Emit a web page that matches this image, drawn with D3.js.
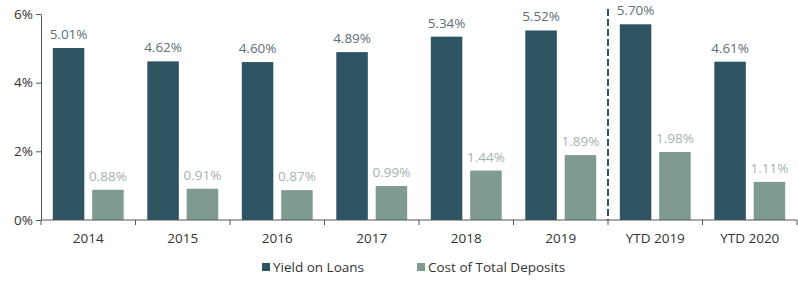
<!DOCTYPE html>
<html>
<head>
<meta charset="utf-8">
<script src="https://cdn.jsdelivr.net/npm/d3@7"></script>
<style>
  body { margin: 0; background: #fff; }
  svg { font-family: "Open Sans", "Liberation Sans", sans-serif; }
</style>
</head>
<body>
<div id="chart"></div>
<script>
const categories = ["2014", "2015", "2016", "2017", "2018", "2019", "YTD 2019", "YTD 2020"];
const yieldOnLoans = [5.01, 4.62, 4.60, 4.89, 5.34, 5.52, 5.70, 4.61];
const costOfDeposits = [0.88, 0.91, 0.87, 0.99, 1.44, 1.89, 1.98, 1.11];
const yTicks = [0, 2, 4, 6];
const seriesNames = ["Yield on Loans", "Cost of Total Deposits"];

const width = 798, height = 282;
const margin = {top: 14, right: 1, bottom: 62, left: 41};
const colors = ["#2e5361", "#7f9b8f"];
const labelColors = ["#5d6f77", "#a3b3ad"];
const fontSize = 13.5;

const svg = d3.select("#chart").append("svg")
    .attr("width", width)
    .attr("height", height);

const x0 = d3.scaleBand()
    .domain(categories)
    .range([margin.left, width - margin.right])
    .paddingInner(0.25)
    .paddingOuter(0.125);

const x1 = d3.scaleBand()
    .domain([0, 1])
    .range([0, x0.bandwidth()])
    .paddingInner(0.2);

const y = d3.scaleLinear()
    .domain([0, 6])
    .range([height - margin.bottom, margin.top]);

const rows = categories.map((c, i) => ({cat: c, vals: [yieldOnLoans[i], costOfDeposits[i]]}));

// bars
const group = svg.append("g")
    .selectAll("g")
    .data(rows)
    .join("g")
    .attr("transform", d => `translate(${x0(d.cat)},0)`);

group.selectAll("rect")
    .data(d => d.vals.map((v, k) => ({k, v})))
    .join("rect")
    .attr("x", d => x1(d.k))
    .attr("y", d => y(d.v))
    .attr("width", x1.bandwidth())
    .attr("height", d => y(0) - y(d.v))
    .attr("fill", d => colors[d.k]);

group.selectAll("text")
    .data(d => d.vals.map((v, k) => ({k, v})))
    .join("text")
    .attr("x", d => x1(d.k) + x1.bandwidth() / 2)
    .attr("y", d => y(d.v) - 9)
    .attr("text-anchor", "middle")
    .attr("font-size", fontSize)
    .attr("fill", d => labelColors[d.k])
    .text(d => d.v.toFixed(2) + "%");

// y axis
const yAxis = svg.append("g")
    .attr("transform", `translate(${margin.left},0)`)
    .call(d3.axisLeft(y).tickValues(yTicks).tickFormat(d => d + "%").tickSize(5).tickSizeOuter(0));
yAxis.select(".domain").attr("stroke", "#555");
yAxis.selectAll(".tick line").attr("stroke", "#555");
yAxis.selectAll(".tick text")
    .attr("font-size", fontSize)
    .attr("fill", "#333")
    .attr("font-family", "Open Sans, Liberation Sans, sans-serif")
    .attr("x", -8);

// x axis
const step = x0.step();
const xAxis = svg.append("g")
    .attr("transform", `translate(0,${y(0)})`);
xAxis.append("line")
    .attr("x1", margin.left)
    .attr("x2", width - margin.right)
    .attr("stroke", "#555");
xAxis.selectAll("line.tick")
    .data(d3.range(categories.length + 1))
    .join("line")
    .attr("class", "tick")
    .attr("x1", i => margin.left + i * step)
    .attr("x2", i => margin.left + i * step)
    .attr("y1", 0)
    .attr("y2", 5)
    .attr("stroke", "#555");
xAxis.selectAll("text")
    .data(categories)
    .join("text")
    .attr("x", d => x0(d) + x0.bandwidth() / 2)
    .attr("y", 23)
    .attr("text-anchor", "middle")
    .attr("font-size", fontSize)
    .attr("fill", "#333")
    .text(d => d);

// dashed separator before YTD
const sepX = x0("YTD 2019") - x0.step() * x0.paddingInner() / 2;
svg.append("line")
    .attr("x1", sepX)
    .attr("x2", sepX)
    .attr("y1", 9)
    .attr("y2", y(0))
    .attr("stroke", colors[0])
    .attr("stroke-width", 2)
    .attr("stroke-dasharray", "7,3");

// legend
const legendX = [262, 417];
const legend = svg.append("g")
    .selectAll("g")
    .data(seriesNames)
    .join("g")
    .attr("transform", (d, i) => `translate(${legendX[i]},263)`);
legend.append("rect")
    .attr("width", 8)
    .attr("height", 8)
    .attr("fill", (d, i) => colors[i]);
legend.append("text")
    .attr("x", 11)
    .attr("y", 9)
    .attr("font-size", fontSize)
    .attr("fill", "#333")
    .text(d => d);
</script>
</body>
</html>
